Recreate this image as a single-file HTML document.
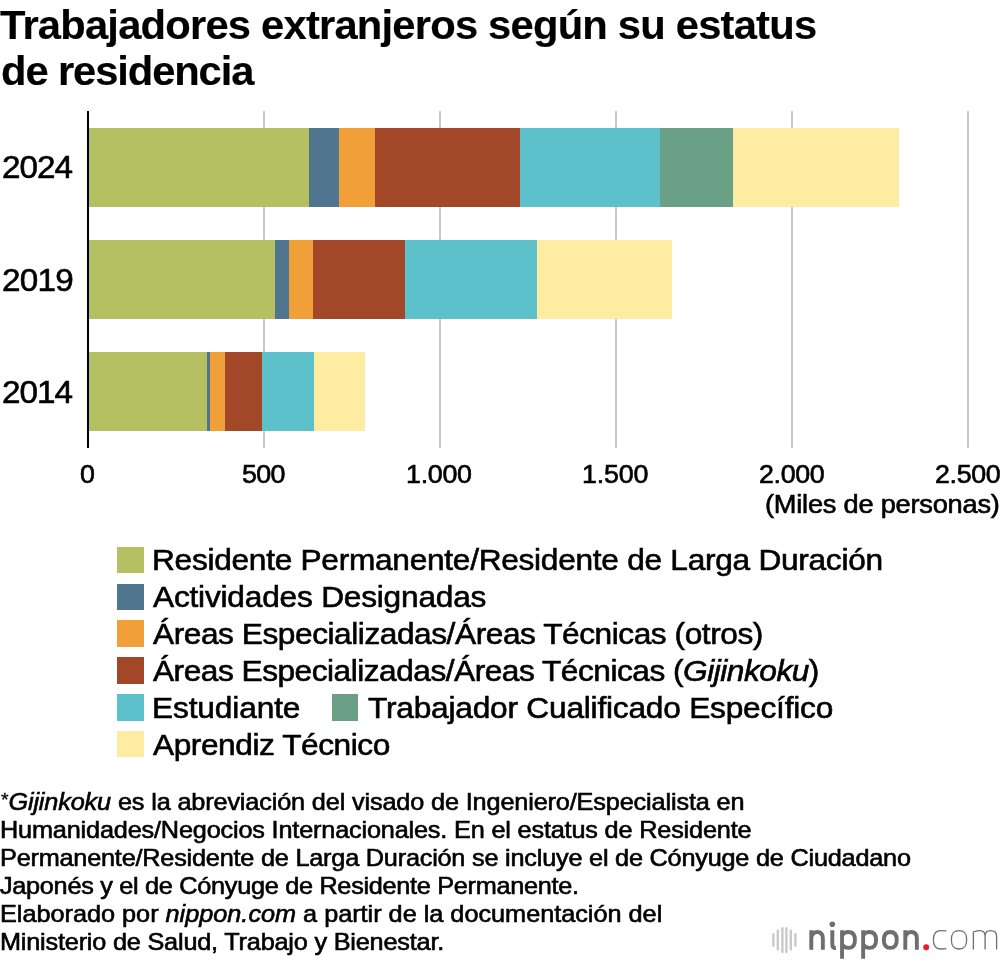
<!DOCTYPE html>
<html><head><meta charset="utf-8">
<style>
html,body{margin:0;padding:0;background:#fff;}
body{width:1000px;height:962px;position:relative;overflow:hidden;font-family:"Liberation Sans",sans-serif;color:#000;}
.a{position:absolute;white-space:nowrap;transform-origin:0 0;-webkit-text-stroke:0.6px #000;will-change:transform;}
.grid{position:absolute;top:111px;height:337px;width:2px;background:#c9c9c9;}
.axis{position:absolute;left:87px;top:111px;height:337px;width:2px;background:#000;}
.bar{position:absolute;height:78.75px;}
.lg{position:absolute;width:26.4px;height:26.3px;}
.g{background:#b4c062}.bl{background:#4f758f}.o{background:#f19f38}.r{background:#a34729}.c{background:#5dc1cc}.t{background:#6aa086}.y{background:#feeca3}
</style></head><body>
<div class="grid" style="left:263px"></div>
<div class="grid" style="left:439px"></div>
<div class="grid" style="left:615px"></div>
<div class="grid" style="left:791px"></div>
<div class="grid" style="left:967px"></div>

<div class="bar g" style="top:128px;height:79px;left:88px;width:221px"></div>
<div class="bar bl" style="top:128px;height:79px;left:309px;width:30px"></div>
<div class="bar o" style="top:128px;height:79px;left:339px;width:36px"></div>
<div class="bar r" style="top:128px;height:79px;left:375px;width:145px"></div>
<div class="bar c" style="top:128px;height:79px;left:520px;width:140px"></div>
<div class="bar t" style="top:128px;height:79px;left:660px;width:73px"></div>
<div class="bar y" style="top:128px;height:79px;left:733px;width:166px"></div>
<div class="bar g" style="top:240px;height:79px;left:88px;width:187px"></div>
<div class="bar bl" style="top:240px;height:79px;left:275px;width:14px"></div>
<div class="bar o" style="top:240px;height:79px;left:289px;width:24px"></div>
<div class="bar r" style="top:240px;height:79px;left:313px;width:92px"></div>
<div class="bar c" style="top:240px;height:79px;left:405px;width:132px"></div>
<div class="bar y" style="top:240px;height:79px;left:537px;width:135px"></div>
<div class="bar g" style="top:352px;height:79px;left:88px;width:119px"></div>
<div class="bar bl" style="top:352px;height:79px;left:207px;width:3px"></div>
<div class="bar o" style="top:352px;height:79px;left:210px;width:15px"></div>
<div class="bar r" style="top:352px;height:79px;left:225px;width:37px"></div>
<div class="bar c" style="top:352px;height:79px;left:262px;width:52px"></div>
<div class="bar y" style="top:352px;height:79px;left:314px;width:51px"></div>

<div class="axis"></div>

<div class="lg g" style="left:117.2px;top:546.75px"></div>
<div class="lg bl" style="left:117.2px;top:583.6px"></div>
<div class="lg o" style="left:117.2px;top:620.45px"></div>
<div class="lg r" style="left:117.2px;top:657.3px"></div>
<div class="lg c" style="left:117.2px;top:694.25px"></div>
<div class="lg t" style="left:331.8px;top:694.25px"></div>
<div class="lg y" style="left:117.2px;top:731px"></div>

<svg width="1000" height="962" style="position:absolute;left:0;top:0" viewBox="0 0 1000 962">
 <g stroke="#c9c9c9" stroke-width="2.4" stroke-linecap="round" fill="none">
  <line x1="773.4" y1="934.2" x2="773.4" y2="945.6"/>
  <line x1="777.8" y1="930.6" x2="777.8" y2="949.4"/>
  <line x1="782.4" y1="928.2" x2="782.4" y2="952"/>
  <line x1="786.4" y1="928.2" x2="786.4" y2="952"/>
  <line x1="790.8" y1="930.6" x2="790.8" y2="949.4"/>
  <line x1="795.4" y1="934.2" x2="795.4" y2="945.6"/>
 </g>
 <g stroke="#6e6e6e" stroke-width="3.9" fill="none" stroke-linecap="butt">
  <path d="M811.3 949.8V930.3M811.3 937.5C812 933.6 814.3 931.95 817.2 931.95C820.8 931.95 822.85 934.2 822.85 938.5V949.8"/>
  <path d="M832.3 930.3V944.2Q832.3 948.2 835.9 948.2"/>
  <path d="M842.05 930.3V958.8M842.05 935.5C843.3 933 845.5 931.95 848.5 931.95C853 931.95 854.95 935.2 854.95 939.9C854.95 944.6 853 947.85 848.5 947.85C845.5 947.85 843.3 946.8 842.05 944.3"/>
  <path d="M863.15 930.3V958.8M863.15 935.5C864.4 933 866.6 931.95 869.6 931.95C874.1 931.95 876.05 935.2 876.05 939.9C876.05 944.6 874.1 947.85 869.6 947.85C866.6 947.85 864.4 946.8 863.15 944.3"/>
  <path d="M890.3 931.95C885.6 931.95 883.85 935.2 883.85 939.9C883.85 944.6 885.6 947.85 890.3 947.85C895 947.85 896.75 944.6 896.75 939.9C896.75 935.2 895 931.95 890.3 931.95Z"/>
  <path d="M905.3 949.8V930.3M905.3 937.5C906 933.6 908.3 931.95 911.2 931.95C914.8 931.95 916.85 934.2 916.85 938.5V949.8"/>
 </g>
 <circle cx="832.3" cy="924.3" r="2.8" fill="#6e6e6e"/>
 <circle cx="926.2" cy="947.2" r="3" fill="#ee1c25"/>
 <g stroke="#6e6e6e" stroke-width="1.3" fill="none">
  <path d="M946.4 930.9C945 930.6 943 930.6 940.5 930.6C935.2 930.6 933.4 933.6 933.4 939.8C933.4 946 935.2 949 940.5 949C943 949 945 949 946.4 948.7"/>
  <path d="M959 930.6C953.2 930.6 951.4 933.6 951.4 939.8C951.4 946 953.2 949 959 949C964.8 949 966.6 946 966.6 939.8C966.6 933.6 964.8 930.6 959 930.6Z"/>
  <path d="M973.4 949.6V932C976 931 977.5 930.6 979.8 930.6C983.5 930.6 985.1 932.5 985.1 936V949.6M985.1 936C985.1 932.5 986.8 930.6 990.5 930.6C995 930.6 996.6 932.5 996.6 936V949.6"/>
 </g>
</svg>
<div class="a" style="left:0.49px;top:5.01px;font-size:40.5px;line-height:40.5px;letter-spacing:-0.763px;font-weight:bold;-webkit-text-stroke:0.15px #000;transform:scaleX(1.03);">Trabajadores extranjeros según su estatus</div>
<div class="a" style="left:0.53px;top:51.01px;font-size:40.5px;line-height:40.5px;letter-spacing:-1.072px;font-weight:bold;-webkit-text-stroke:0.15px #000;transform:scaleX(1.03);">de residencia</div>
<div class="a" style="left:2.38px;top:151.32px;font-size:32px;line-height:32px;letter-spacing:-0.938px;transform:scaleX(1.04);">2024</div>
<div class="a" style="left:2.38px;top:263.50px;font-size:32px;line-height:32px;letter-spacing:-0.701px;transform:scaleX(1.04);">2019</div>
<div class="a" style="left:2.38px;top:375.82px;font-size:32px;line-height:32px;letter-spacing:-0.938px;transform:scaleX(1.04);">2014</div>
<div class="a" style="left:79.87px;top:462.01px;font-size:25.8px;line-height:25.8px;letter-spacing:0.000px;transform:scaleX(1.04);">0</div>
<div class="a" style="left:242.04px;top:462.01px;font-size:25.8px;line-height:25.8px;letter-spacing:-0.667px;transform:scaleX(1.04);">500</div>
<div class="a" style="left:405.87px;top:462.01px;font-size:25.8px;line-height:25.8px;letter-spacing:-0.278px;transform:scaleX(1.04);">1.000</div>
<div class="a" style="left:581.87px;top:462.01px;font-size:25.8px;line-height:25.8px;letter-spacing:-0.144px;transform:scaleX(1.04);">1.500</div>
<div class="a" style="left:759.27px;top:462.01px;font-size:25.8px;line-height:25.8px;letter-spacing:-0.356px;transform:scaleX(1.04);">2.000</div>
<div class="a" style="left:935.27px;top:462.01px;font-size:25.8px;line-height:25.8px;letter-spacing:-0.356px;transform:scaleX(1.04);">2.500</div>
<div class="a" style="left:765.46px;top:492.00px;font-size:25.2px;line-height:25.2px;letter-spacing:-0.207px;transform:scaleX(1.08);">(Miles de personas)</div>
<div class="a" style="left:152.09px;top:545.41px;font-size:29.3px;line-height:29.3px;letter-spacing:-0.255px;transform:scaleX(1.08);">Residente Permanente/Residente de Larga Duración</div>
<div class="a" style="left:153.22px;top:582.20px;font-size:29.3px;line-height:29.3px;letter-spacing:-0.190px;transform:scaleX(1.08);">Actividades Designadas</div>
<div class="a" style="left:153.22px;top:619.00px;font-size:29.3px;line-height:29.3px;letter-spacing:-0.411px;transform:scaleX(1.08);">Áreas Especializadas/Áreas Técnicas (otros)</div>
<div class="a" style="left:153.22px;top:655.91px;font-size:29.3px;line-height:29.3px;letter-spacing:-0.451px;transform:scaleX(1.08);">Áreas Especializadas/Áreas Técnicas (<i>Gijinkoku</i>)</div>
<div class="a" style="left:152.09px;top:692.81px;font-size:29.3px;line-height:29.3px;letter-spacing:-0.115px;transform:scaleX(1.08);">Estudiante</div>
<div class="a" style="left:367.80px;top:692.81px;font-size:29.3px;line-height:29.3px;letter-spacing:-0.192px;transform:scaleX(1.08);">Trabajador Cualificado Específico</div>
<div class="a" style="left:153.22px;top:729.50px;font-size:29.3px;line-height:29.3px;letter-spacing:-0.405px;transform:scaleX(1.08);">Aprendiz Técnico</div>
<div class="a" style="left:0.58px;top:789.01px;font-size:23.4px;line-height:23.4px;letter-spacing:-0.135px;transform:scaleX(1.08);"><span style="font-size:18px;vertical-align:4px;-webkit-text-stroke:0.3px #000">*</span><i>Gijinkoku</i> es la abreviación del visado de Ingeniero/Especialista en</div>
<div class="a" style="left:-0.33px;top:819.06px;font-size:23.4px;line-height:23.4px;letter-spacing:-0.161px;transform:scaleX(1.08);">Humanidades/Negocios Internacionales. En el estatus de Residente</div>
<div class="a" style="left:0.17px;top:847.11px;font-size:23.4px;line-height:23.4px;letter-spacing:-0.196px;transform:scaleX(1.08);">Permanente/Residente de Larga Duración se incluye el de Cónyuge de Ciudadano</div>
<div class="a" style="left:-0.27px;top:875.11px;font-size:23.4px;line-height:23.4px;letter-spacing:-0.268px;transform:scaleX(1.08);">Japonés y el de Cónyuge de Residente Permanente.</div>
<div class="a" style="left:-0.33px;top:903.00px;font-size:23.4px;line-height:23.4px;letter-spacing:-0.010px;transform:scaleX(1.08);">Elaborado por <i>nippon.com</i> a partir de la documentación del</div>
<div class="a" style="left:-0.33px;top:931.22px;font-size:23.4px;line-height:23.4px;letter-spacing:-0.183px;transform:scaleX(1.08);">Ministerio de Salud, Trabajo y Bienestar.</div>
</body></html>
